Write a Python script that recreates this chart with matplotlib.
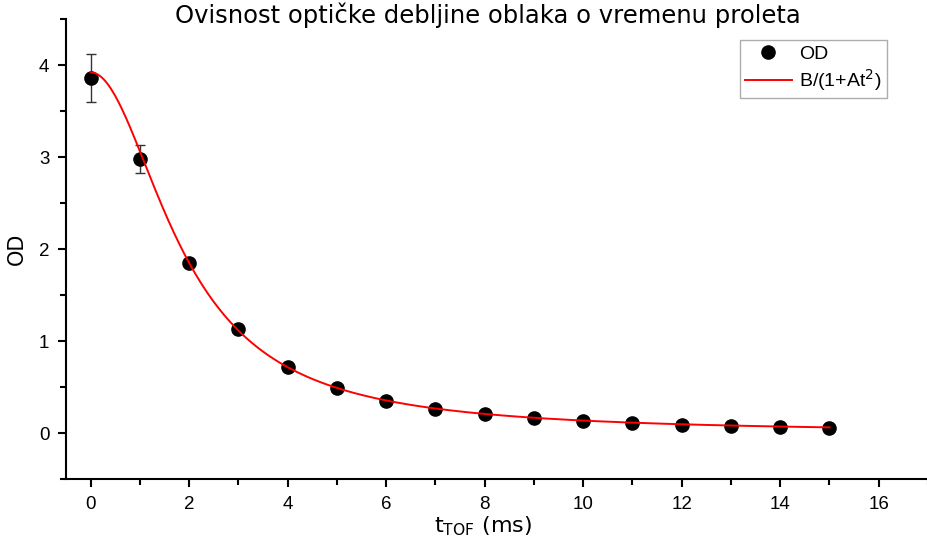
import numpy as np
import matplotlib
matplotlib.use("Agg")
import matplotlib.pyplot as plt
from matplotlib.ticker import MultipleLocator
from matplotlib.lines import Line2D

# measured optical depth vs time of flight
t_ms = [0, 1, 2, 3, 4, 5, 6, 7, 8, 9, 10, 11, 12, 13, 14, 15]
od = [3.86, 2.98, 1.85, 1.13, 0.72, 0.49, 0.35, 0.265, 0.21, 0.163,
      0.126, 0.104, 0.09, 0.072, 0.065, 0.054]
od_err = [0.26, 0.15, 0.04, 0.03, 0.02, 0.015, 0.012, 0.01, 0.01, 0.01,
          0.008, 0.008, 0.008, 0.008, 0.008, 0.008]

# fit parameters for B/(1+At^2)
FIT_B = 3.92
FIT_A = 0.28

TICK_FONT = "Liberation Sans"
LABEL_FONT = "DejaVu Sans"
RED = "#ff0000"

fig = plt.figure(figsize=(9.28, 5.46), dpi=100)
ax = fig.add_axes([66 / 928, 67 / 546, 862 / 928, 460 / 546])

tt = np.linspace(min(t_ms), max(t_ms), 400)
ax.errorbar(t_ms, od, yerr=od_err, fmt="o", color="black", ms=9.5,
            ecolor="#333333", elinewidth=1, capsize=3.5, capthick=1,
            zorder=3)
ax.plot(tt, FIT_B / (1 + FIT_A * tt ** 2), color=RED, lw=1.4, zorder=4)

ax.set_xlim(-0.5, 17)
ax.set_ylim(-0.5, 4.5)
ax.xaxis.set_major_locator(MultipleLocator(2))
ax.xaxis.set_minor_locator(MultipleLocator(1))
ax.yaxis.set_major_locator(MultipleLocator(1))
ax.yaxis.set_minor_locator(MultipleLocator(0.5))

for s in ("top", "right"):
    ax.spines[s].set_visible(False)
for s in ("left", "bottom"):
    ax.spines[s].set_linewidth(1.5)
ax.tick_params(which="major", direction="out", length=6, width=1.5,
               labelsize=13.5, pad=6)
ax.tick_params(which="minor", direction="out", length=4, width=1.5)
for lab in ax.get_xticklabels() + ax.get_yticklabels():
    lab.set_fontfamily(TICK_FONT)

ax.set_xlabel(r"t$_{\mathrm{TOF}}$ (ms)", fontsize=16, family=LABEL_FONT)
ax.xaxis.set_label_coords((483 - 66) / 862, -0.078)
ax.set_ylabel("OD", fontsize=15, family=LABEL_FONT)
ax.yaxis.set_label_coords(-0.045, 0.5)

fig.text(488 / 928, 1 - 15 / 546, "Ovisnost optičke debljine oblaka o vremenu proleta",
         ha="center", va="center", fontsize=17.5, family=LABEL_FONT)

handles = [Line2D([], [], ls="none", marker="o", color="black", ms=9.5),
           Line2D([], [], color=RED, lw=1.4)]
leg = ax.legend(handles, ["OD", "B/(1+At$^2$)"], loc="upper right",
                bbox_to_anchor=(0.952, 0.954), borderaxespad=0,
                fancybox=False, numpoints=1, handlelength=2.4,
                prop={"family": TICK_FONT, "size": 14},
                labelspacing=0.25, borderpad=0.25, handletextpad=0.4)
leg.get_frame().set_edgecolor("#999999")
leg.get_frame().set_linewidth(1)

fig.savefig("out.png", dpi=100, facecolor="white")
